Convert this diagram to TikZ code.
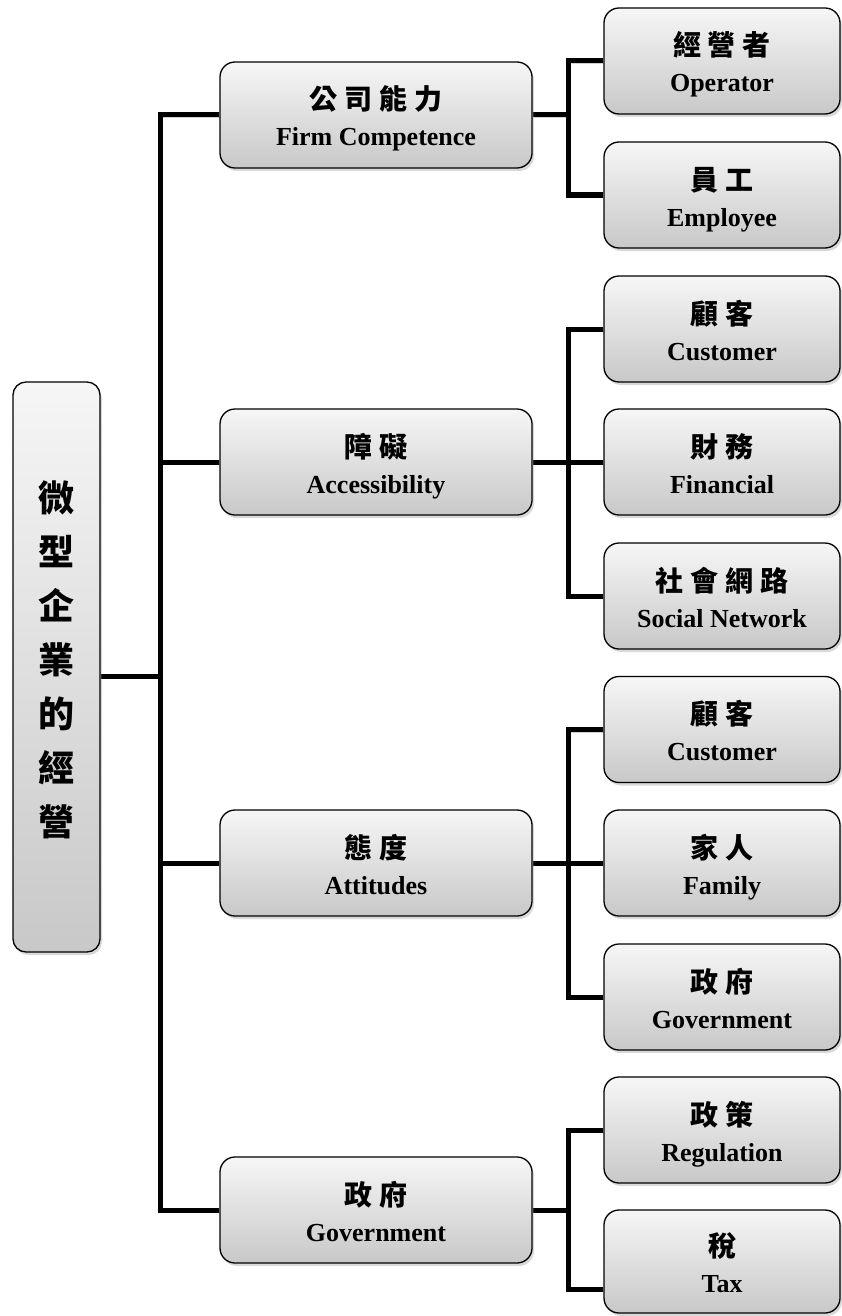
\documentclass[tikz,border=0pt]{standalone}
\usepackage{fontspec}
\setmainfont{Liberation Serif}
\newfontfamily\cjk{Noto Sans CJK TC}
\usetikzlibrary{shadows,calc}
\pgfdeclarelayer{bg}
\pgfsetlayers{bg,main}
\newcommand\cs{\kern7pt}
\newcommand\lbl[2]{\rule{0pt}{34pt}{\cjk\fontsize{28}{36}\selectfont #1}\\#2\rule[-8pt]{0pt}{8pt}}
\begin{document}
\begin{tikzpicture}[x=1pt,y=-1pt,
  box/.style={draw=black, line width=1.3pt, rounded corners=15pt,
    top color=gray!7, bottom color=gray!43,
    drop shadow={shadow xshift=2pt,shadow yshift=-3pt,opacity=0.3},
    align=center, font=\fontsize{26}{36}\selectfont\bfseries, inner sep=0pt},
  lone/.style={box, minimum width=312pt, minimum height=106pt},
  ltwo/.style={box, minimum width=236pt, minimum height=106pt},
  conn/.style={line width=5pt, line join=miter, line cap=butt,
    preaction={draw, black, opacity=0.18, transform canvas={xshift=1.5pt,yshift=-2.5pt}}}
]
\useasboundingbox (0,0) rectangle (841,1316);

% root
\node[box, minimum width=87pt, minimum height=570pt, rounded corners=13pt,
  font=\cjk\fontsize{36}{54}\selectfont\bfseries] (root) at (56.5,667)
  {微\\型\\企\\業\\的\\經\\營\rule[-18pt]{0pt}{18pt}};

% level 1
\node[lone] (a) at (376,115)  {\lbl{公\cs 司\cs 能\cs 力}{Firm Competence}};
\node[lone] (b) at (376,462)  {\lbl{障\cs 礙}{Accessibility}};
\node[lone] (c) at (376,863)  {\lbl{態\cs 度}{Attitudes}};
\node[lone] (d) at (376,1210) {\lbl{政\cs 府}{Government}};

% level 2
\node[ltwo] (c1) at (722,61)    {\lbl{經\cs 營\cs 者}{Operator}};
\node[ltwo] (c2) at (722,195)   {\lbl{員\cs 工}{Employee}};
\node[ltwo] (c3) at (722,329)   {\lbl{顧\cs 客}{Customer}};
\node[ltwo] (c4) at (722,462)   {\lbl{財\cs 務}{Financial}};
\node[ltwo] (c5) at (722,596)   {\lbl{社\cs 會\cs 網\cs 路}{Social Network}};
\node[ltwo] (c6) at (722,729.5) {\lbl{顧\cs 客}{Customer}};
\node[ltwo] (c7) at (722,863)   {\lbl{家\cs 人}{Family}};
\node[ltwo] (c8) at (722,997)   {\lbl{政\cs 府}{Government}};
\node[ltwo] (c9) at (722,1130)  {\lbl{政\cs 策}{Regulation}};
\node[ltwo, minimum height=103pt] (c10) at (722,1261.5) {\lbl{稅}{Tax}};

\coordinate (T) at (160,0);
\coordinate (B) at (568,0);
\coordinate (rj) at (160,676);
\coordinate (tx) at ($(c10.west)+(0,27.5)$);

\begin{pgfonlayer}{bg}
\draw[conn] (root.east |- rj) -- (rj);
\draw[conn] (a.west) -- (T |- a.west) -- (T |- d.west) -- (d.west);
\draw[conn] (T |- b.west) -- (b.west);
\draw[conn] (T |- c.west) -- (c.west);

\draw[conn] (c1.west) -- (B |- c1.west) -- (B |- c2.west) -- (c2.west);
\draw[conn] (a.east) -- (B |- a.east);

\draw[conn] (c3.west) -- (B |- c3.west) -- (B |- c5.west) -- (c5.west);
\draw[conn] (b.east) -- (c4.west);

\draw[conn] (c6.west) -- (B |- c6.west) -- (B |- c8.west) -- (c8.west);
\draw[conn] (c.east) -- (c7.west);

\draw[conn] (c9.west) -- (B |- c9.west) -- (B |- tx) -- (tx);
\draw[conn] (d.east) -- (B |- d.east);
\end{pgfonlayer}
\end{tikzpicture}
\end{document}
